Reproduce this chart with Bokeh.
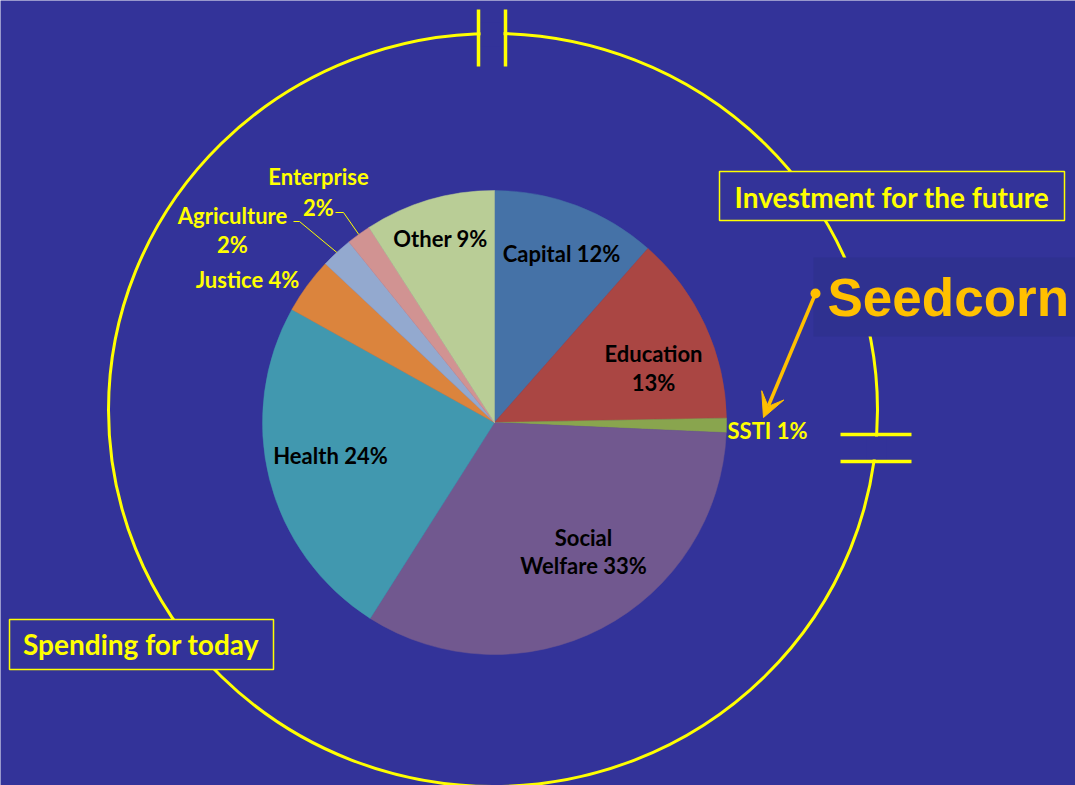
import numpy as np
from bokeh.plotting import figure
from bokeh.models import Range1d, Arrow, VeeHead
from bokeh.core.properties import value
from bokeh.embed import file_html
from bokeh.resources import INLINE

# ---------------- data ----------------
categories = ["Capital", "Education", "SSTI", "Social Welfare", "Health",
              "Justice", "Agriculture", "Enterprise", "Other"]
shares = [11.5, 13.2, 1.0, 33.3, 24.1, 3.9, 2.2, 1.7, 9.1]
pct_labels = ["12%", "13%", "1%", "33%", "24%", "4%", "2%", "2%", "9%"]

# ---------------- styles / layout ----------------
colors = ["#4572A7", "#AA4643", "#89A54E", "#71588F", "#4198AF",
          "#DB843D", "#93A9CF", "#D19392", "#B9CD96"]
BG = "#333399"
YEL = "#FFFF00"
ORANGE = "#FFC000"
FONT = "Lato"

REF_H = 785
def Y(y):
    return REF_H - y

# label lines (text, centre x, centre y in reference pixel space)
label_layout = {
    "Capital": [("Capital 12%", 561, 253)],
    "Education": [("Education", 653, 353), ("13%", 653, 382)],
    "SSTI": [("SSTI 1%", 767, 430)],
    "Social Welfare": [("Social", 583, 537), ("Welfare 33%", 583, 565)],
    "Health": [("Health 24%", 330, 455)],
    "Justice": [("Justice 4%", 247, 279)],
    "Agriculture": [("Agriculture", 232, 215), ("2%", 232, 244)],
    "Enterprise": [("Enterprise", 318, 176), ("2%", 318, 207)],
    "Other": [("Other 9%", 440, 238)],
}
outside = {"SSTI", "Justice", "Agriculture", "Enterprise"}
leader_start = {"Agriculture": (293, 221, 299), "Enterprise": (335, 212, 343)}

PIE_X, PIE_Y, PIE_R = 494, 422, 232

p = figure(width=1075, height=785, output_backend="svg", toolbar_location=None,
           x_range=Range1d(0, 1075), y_range=Range1d(0, 785),
           x_axis_location=None, y_axis_location=None,
           background_fill_color=BG, border_fill_color=BG,
           outline_line_color=None, min_border=0)
p.grid.visible = False

# ---------------- big ellipse ("circuit") ----------------
p.ellipse(x=492.5, y=Y(409.5), width=769, height=753,
          fill_color=None, line_color=YEL, line_width=3)
# gaps for capacitor symbols
p.quad(left=[480, 866], right=[503, 886], top=[Y(22), Y(436)], bottom=[Y(46), Y(459)],
       fill_color=BG, line_color=None)
p.segment(x0=[478, 505], y0=[Y(9), Y(9)], x1=[478, 505], y1=[Y(66), Y(66)],
          line_color=YEL, line_width=3.5)
p.segment(x0=[840, 840], y0=[Y(434), Y(461)], x1=[911, 911], y1=[Y(434), Y(461)],
          line_color=YEL, line_width=3.5)

# boxes
p.quad(left=[719, 9], right=[1064, 273], top=[Y(171), Y(619)], bottom=[Y(220), Y(669)],
       fill_color=BG, line_color=YEL, line_width=1.5)
p.quad(left=[813], right=[1080], top=[Y(257)], bottom=[Y(336)],
       fill_color="#2F3190", line_color=None)

p.text(x=[891.5, 140.5], y=[Y(196.5), Y(643.5)],
       text=["Investment for the future", "Spending for today"],
       text_color=YEL, text_font=value(FONT), text_font_style="bold",
       text_font_size="28px", text_align="center", text_baseline="middle")

# ---------------- pie ----------------
vals = np.array(shares, dtype=float)
frac = vals / vals.sum()
cum = np.concatenate([[0.0], np.cumsum(frac)])
start = np.pi / 2 - 2 * np.pi * cum[:-1]
end = np.pi / 2 - 2 * np.pi * cum[1:]
p.wedge(x=PIE_X, y=Y(PIE_Y), radius=PIE_R, start_angle=start, end_angle=end,
        direction="clock", fill_color=colors, line_color=colors, line_width=0.5)

# leader lines for small outside slices, ending on the rim at the slice mid-angle
for i, cat in enumerate(categories):
    if cat in leader_start:
        mid = 2 * np.pi * (cum[i] + cum[i + 1]) / 2
        rx = PIE_X + PIE_R * np.sin(mid)
        ry = PIE_Y - PIE_R * np.cos(mid)
        sx, sy, kx = leader_start[cat]
        p.line(x=[sx, kx, rx], y=[Y(sy), Y(sy), Y(ry)], line_color=YEL, line_width=1)

# labels
for cat in categories:
    for txt, lx, ly in label_layout[cat]:
        p.text(x=[lx], y=[Y(ly)], text=[txt],
               text_color=YEL if cat in outside else "#000000",
               text_font=value(FONT), text_font_style="bold", text_font_size="22px",
               text_align="center", text_baseline="middle")

# ---------------- Seedcorn callout ----------------
p.text(x=[827], y=[Y(297)], text=["Seedcorn"], text_color=ORANGE,
       text_font=value("Liberation Sans"), text_font_style="bold",
       text_font_size="53px", text_align="left", text_baseline="middle")
p.add_layout(Arrow(end=VeeHead(size=24, fill_color=ORANGE, line_color=ORANGE),
                   x_start=815, y_start=Y(293), x_end=763, y_end=Y(417),
                   line_color=ORANGE, line_width=3.5))
p.scatter(x=[815], y=[Y(293)], size=10, marker="circle",
          fill_color=ORANGE, line_color=None)

open("out.html", "w").write(file_html(p, INLINE))
